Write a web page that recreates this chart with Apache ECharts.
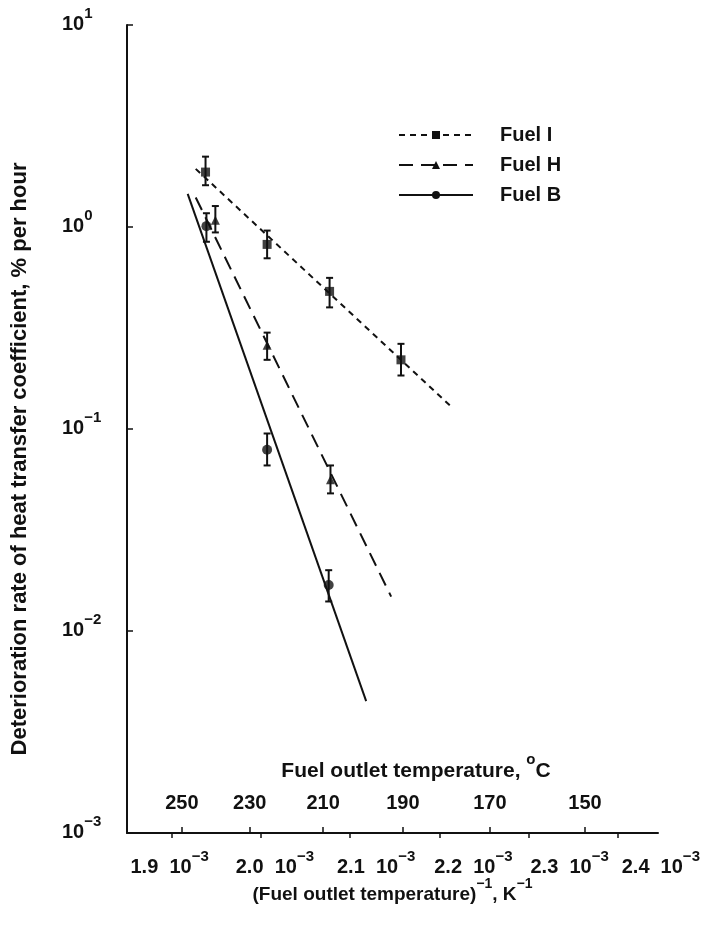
<!DOCTYPE html>
<html><head><meta charset="utf-8">
<script src="https://cdn.jsdelivr.net/npm/echarts@6/dist/echarts.min.js"></script>
<style>html,body{margin:0;padding:0;background:#fff}#c{width:702px;height:928px}</style>
</head><body><div id="c"></div>
<script>
// ---- data (x in units of 1e-3 K^-1) ----
const xTicks = [1.9, 2.0, 2.1, 2.2, 2.3, 2.4];
const tempTicks = [250, 230, 210, 190, 170, 150];
const seriesNames = ['Fuel I', 'Fuel H', 'Fuel B'];

const fuelIX = [1.938, 2.007, 2.077, 2.157];
const fuelIY = [1.87, 0.82, 0.48, 0.22];
const fuelILow = [1.61, 0.70, 0.40, 0.184];
const fuelIHigh = [2.23, 0.96, 0.56, 0.264];

const fuelHX = [1.949, 2.007, 2.078];
const fuelHY = [1.08, 0.26, 0.056];
const fuelHLow = [0.94, 0.22, 0.048];
const fuelHHigh = [1.27, 0.30, 0.066];

const fuelBX = [1.939, 2.007, 2.076];
const fuelBY = [1.01, 0.079, 0.0169];
const fuelBLow = [0.845, 0.066, 0.014];
const fuelBHigh = [1.17, 0.095, 0.020];

const fitIX = [1.927, 2.215], fitIY = [1.94, 0.127];
const fitHX = [1.927, 2.146], fitHY = [1.40, 0.0148];
const fitBX = [1.918, 2.118], fitBY = [1.46, 0.0045];

// ---- helpers ----
const INK = '#111';
const FONT = "'Liberation Sans', Arial, sans-serif";
const Y_MIN = 0.001, Y_MAX = 10, X_MIN = 1.85, X_MAX = 2.445;
const zip = (a, b) => a.map((v, i) => [v, b[i]]);
const zip3 = (a, b, c) => a.map((v, i) => [v, b[i], c[i]]);
const toInv = t => 1000 / (t + 273.15);
const labelShift = [-2, 14, 26, 34, 41, 43]; // horizontal drift of the printed bottom labels (style)

const supRich = (main, sup, lh, key) => ({
  m: {fontSize: main, fontWeight: 'bold', fontFamily: FONT, [key]: INK, lineHeight: lh, verticalAlign: 'bottom'},
  s: {fontSize: sup, fontWeight: 'bold', fontFamily: FONT, [key]: INK, lineHeight: sup, verticalAlign: 'top'}
});

function errRender(params, api) {
  const x = api.value(0);
  const top = api.coord([x, api.value(2)]);
  const bot = api.coord([x, api.value(1)]);
  const w = 3.5;
  const st = {stroke: INK, lineWidth: 2};
  return {type: 'group', children: [
    {type: 'line', shape: {x1: top[0], y1: top[1], x2: bot[0], y2: bot[1]}, style: st},
    {type: 'line', shape: {x1: top[0] - w, y1: top[1], x2: top[0] + w, y2: top[1]}, style: st},
    {type: 'line', shape: {x1: bot[0] - w, y1: bot[1], x2: bot[0] + w, y2: bot[1]}, style: st}
  ]};
}

const xLabRich = supRich(20, 15, 28, 'fill');
function xLabelRender(params, api) {
  const v = api.value(0);
  const p = api.coord([v, Y_MIN]);
  return {
    type: 'text', x: p[0] + labelShift[params.dataIndex], y: p[1] + 16,
    style: {
      text: '{m|' + v.toFixed(1) + '  10}{s|\u22123}', align: 'center', verticalAlign: 'top',
      fontSize: 20, fontWeight: 'bold', fontFamily: FONT, fill: INK, rich: xLabRich
    }
  };
}

const chart = echarts.init(document.getElementById('c'), null, {renderer: 'canvas'});
chart.setOption({
  animation: false,
  backgroundColor: '#fff',
  textStyle: {fontFamily: FONT, fontWeight: 'bold', color: INK},
  grid: {left: 127, right: 44, top: 25, bottom: 95, containLabel: false, outerBoundsMode: 'none'},
  legend: {
    orient: 'vertical', left: 398, top: 125, padding: 0, itemWidth: 74, itemHeight: 10, itemGap: 10,
    data: seriesNames,
    textStyle: {fontSize: 20, fontWeight: 'bold', fontFamily: FONT, color: INK, padding: [0, 0, 0, 22], lineHeight: 20}
  },
  xAxis: [{
    type: 'value', min: X_MIN, max: X_MAX,
    axisLine: {onZero: false, lineStyle: {color: INK, width: 2}},
    splitLine: {show: false},
    axisTick: {show: true, customValues: xTicks, length: 5, inside: false, lineStyle: {color: INK, width: 1.5}},
    axisLabel: {show: false},
    name: '{m|(Fuel outlet temperature)}{s|\u22121}{m|, K}{s|\u22121}',
    nameLocation: 'middle', nameGap: 44,
    nameTextStyle: {fontSize: 19, fontWeight: 'bold', fontFamily: FONT, color: INK, verticalAlign: 'top', rich: supRich(19, 14, 27, 'color')}
  }, {
    type: 'value', min: X_MIN, max: X_MAX, position: 'bottom',
    axisLine: {show: false, onZero: false},
    splitLine: {show: false},
    axisTick: {show: true, inside: true, length: 6, customValues: tempTicks.map(toInv), lineStyle: {color: INK, width: 1.5}},
    axisLabel: {
      inside: true, margin: 20, customValues: tempTicks.map(toInv), showMinLabel: true, showMaxLabel: true,
      fontSize: 20, fontWeight: 'bold', fontFamily: FONT, color: INK,
      formatter: v => String(Math.round(1000 / v - 273.15))
    }
  }],
  yAxis: {
    type: 'log', logBase: 10, min: Y_MIN, max: Y_MAX,
    axisLine: {show: true, onZero: false, lineStyle: {color: INK, width: 2}},
    splitLine: {show: false},
    minorTick: {show: false},
    axisTick: {show: true, inside: true, length: 6, lineStyle: {color: INK, width: 1.5}},
    axisLabel: {
      align: 'left', margin: 65, padding: [0, 0, 10, 0], showMinLabel: true, showMaxLabel: true,
      formatter: v => {
        const e = Math.round(Math.log10(v));
        return '{m|10}{s|' + (e < 0 ? '\u2212' + (-e) : e) + '}';
      },
      rich: supRich(20, 15, 28, 'color')
    },
    name: 'Deterioration rate of heat transfer coefficient, % per hour',
    nameLocation: 'middle', nameRotate: 90, nameGap: 96,
    nameTextStyle: {fontSize: 22, fontWeight: 'bold', fontFamily: FONT, color: INK, padding: [0, 60, 0, 0]}
  },
  graphic: [{
    type: 'text', x: 416, y: 767,
    style: {
      text: '{m|Fuel outlet temperature, }{s|o}{m|C}', align: 'center', verticalAlign: 'middle',
      fontSize: 21, fontWeight: 'bold', fontFamily: FONT, fill: INK,
      rich: supRich(21, 15, 29, 'fill')
    }
  }],
  series: [
    {type: 'line', name: 'Fuel I', data: zip(fitIX, fitIY), symbol: 'rect', showSymbol: false,
     lineStyle: {color: INK, width: 2, type: [6, 5]}, itemStyle: {color: INK}, silent: true},
    {type: 'line', name: 'Fuel H', data: zip(fitHX, fitHY), symbol: 'triangle', showSymbol: false,
     lineStyle: {color: INK, width: 2, type: [14, 8]}, itemStyle: {color: INK}, silent: true},
    {type: 'line', name: 'Fuel B', data: zip(fitBX, fitBY), symbol: 'circle', showSymbol: false,
     lineStyle: {color: INK, width: 2}, itemStyle: {color: INK}, silent: true},

    {type: 'custom', name: 'errI', renderItem: errRender, data: zip3(fuelIX, fuelILow, fuelIHigh), encode: {x: 0, y: [1, 2]}, silent: true},
    {type: 'custom', name: 'errH', renderItem: errRender, data: zip3(fuelHX, fuelHLow, fuelHHigh), encode: {x: 0, y: [1, 2]}, silent: true},
    {type: 'custom', name: 'errB', renderItem: errRender, data: zip3(fuelBX, fuelBLow, fuelBHigh), encode: {x: 0, y: [1, 2]}, silent: true},

    {type: 'scatter', name: 'ptsI', data: zip(fuelIX, fuelIY), symbol: 'rect', symbolSize: 9, itemStyle: {color: INK}, silent: true, z: 5},
    {type: 'scatter', name: 'ptsH', data: zip(fuelHX, fuelHY), symbol: 'triangle', symbolSize: 9, itemStyle: {color: INK}, silent: true, z: 5},
    {type: 'scatter', name: 'ptsB', data: zip(fuelBX, fuelBY), symbol: 'circle', symbolSize: 10, itemStyle: {color: INK}, silent: true, z: 5},

    {type: 'custom', name: 'xTickLabels', renderItem: xLabelRender, clip: false, silent: true,
     data: xTicks.map(v => [v, Y_MIN]), encode: {x: 0, y: 1}}
  ]
});
</script>
</body></html>
